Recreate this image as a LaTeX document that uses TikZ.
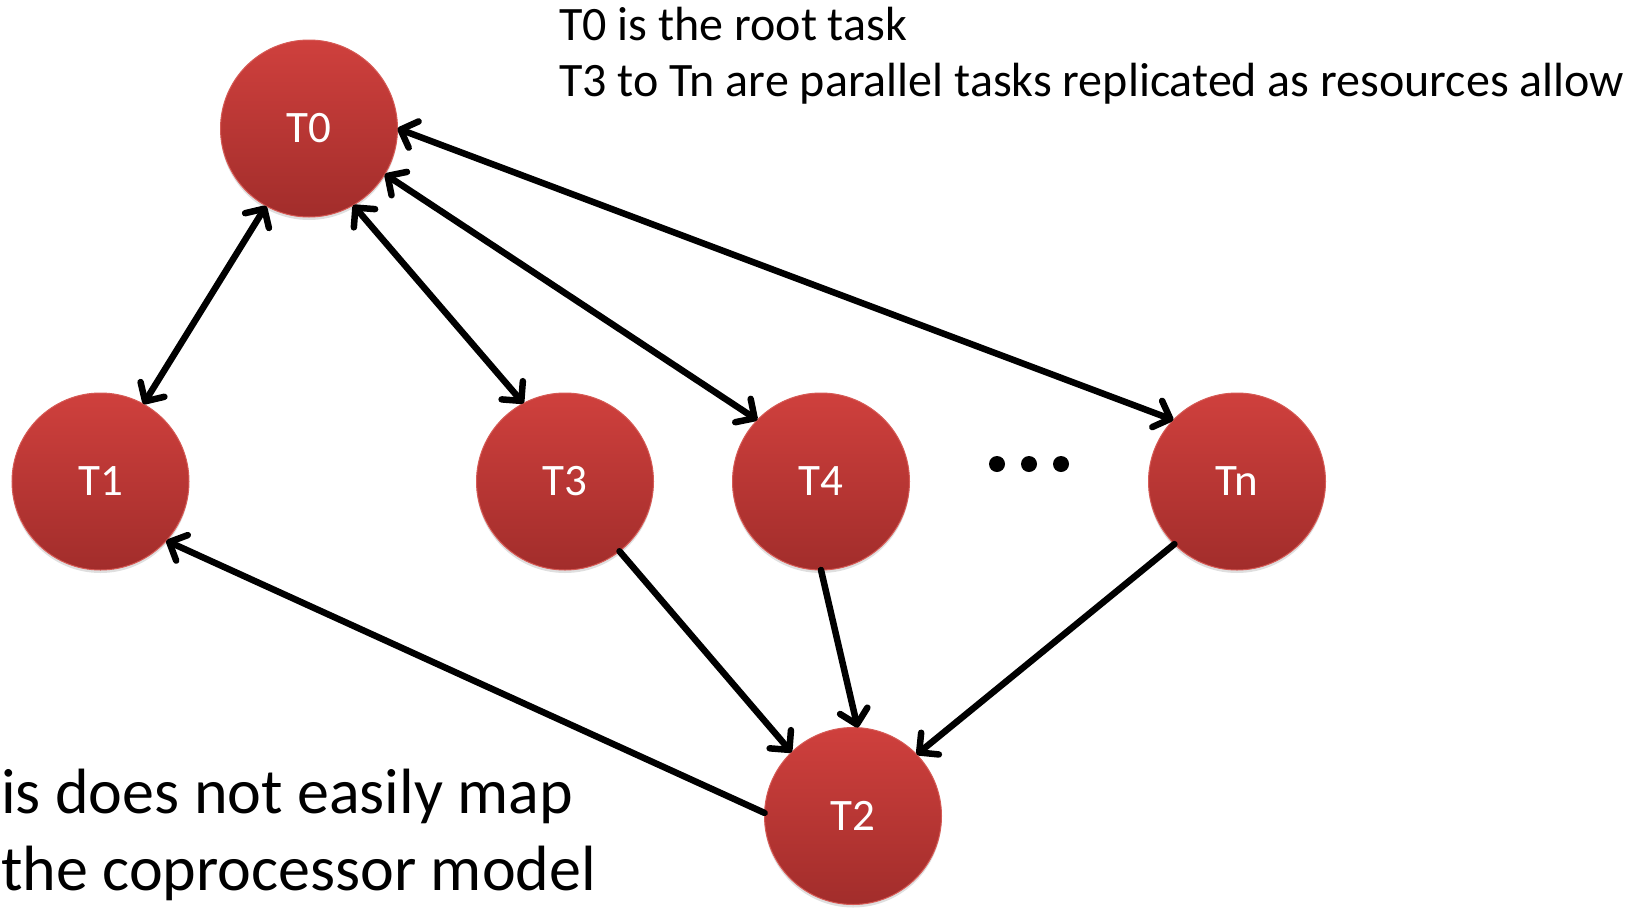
\documentclass[tikz,border=0pt]{standalone}
\usepackage{fontspec}
\setmainfont{Carlito}
\usetikzlibrary{arrows.meta,shadows}
\definecolor{redtop}{HTML}{CF403D}
\definecolor{redbot}{HTML}{A22D2B}
\definecolor{redrim}{HTML}{D65A55}
\tikzset{
  task/.style={circle, minimum size=177pt, inner sep=0pt, outer sep=0pt,
    top color=redtop, bottom color=redbot, draw=redrim, line width=1pt,
    text=white, font=\fontsize{45}{52}\selectfont,
    drop shadow={opacity=0.25, shadow xshift=0pt, shadow yshift=-3pt}},
  barb/.tip={Straight Barb[length=14pt, width=28pt, line cap=round, line join=round]},
  link/.style={line width=6.5pt, line cap=round, line join=round, -barb},
  dlink/.style={link, barb-barb},
  note/.style={anchor=base west, inner sep=0pt, font=\fontsize{48}{56}\selectfont},
  bignote/.style={anchor=base west, inner sep=0pt, font=\fontsize{64}{72}\selectfont},
  dot/.style={circle, fill=black, minimum size=16pt, inner sep=0pt}
}
\begin{document}
\begin{tikzpicture}[x=1pt, y=-1pt]
\useasboundingbox (0,0) rectangle (1644,908);
\node[task] (T0) at (309,128.5) {T0};
\node[task] (T1) at (100.5,481.5) {T1};
\node[task] (T3) at (565,481.5) {T3};
\node[task] (T4) at (821,481.5) {T4};
\node[task] (Tn) at (1237,481.5) {Tn};
\node[task] (T2) at (853,816) {T2};
\node[dot] (d1) at (997,464) {};
\node[dot] (d2) at (1029,464) {};
\node[dot] (d3) at (1061,464) {};
\draw[dlink] (T0.-119) -- (T1.61.5);
\draw[dlink] (T0.-60) -- (T3.118);
\draw[dlink] (T0.-31) -- (T4.136);
\draw[dlink] (T0.0) -- (Tn.136.5);
\draw[link] (T3.-52) -- (T2.134);
\draw[link] (T4.-90) -- (T2.87);
\draw[link] (Tn.-135.5) -- (T2.44.5);
\draw[link] (T2.178) -- (T1.-42);
\node[note] (n1) at (559,40) {T0 is the root task};
\node[note] (n2) at (559,96) {T3 to Tn are parallel tasks replicated as resources allow};
\node[bignote] (b1) at (1,813) {is does not easily map};
\node[bignote] (b2) at (1,890) {the coprocessor model};
\end{tikzpicture}
\end{document}
